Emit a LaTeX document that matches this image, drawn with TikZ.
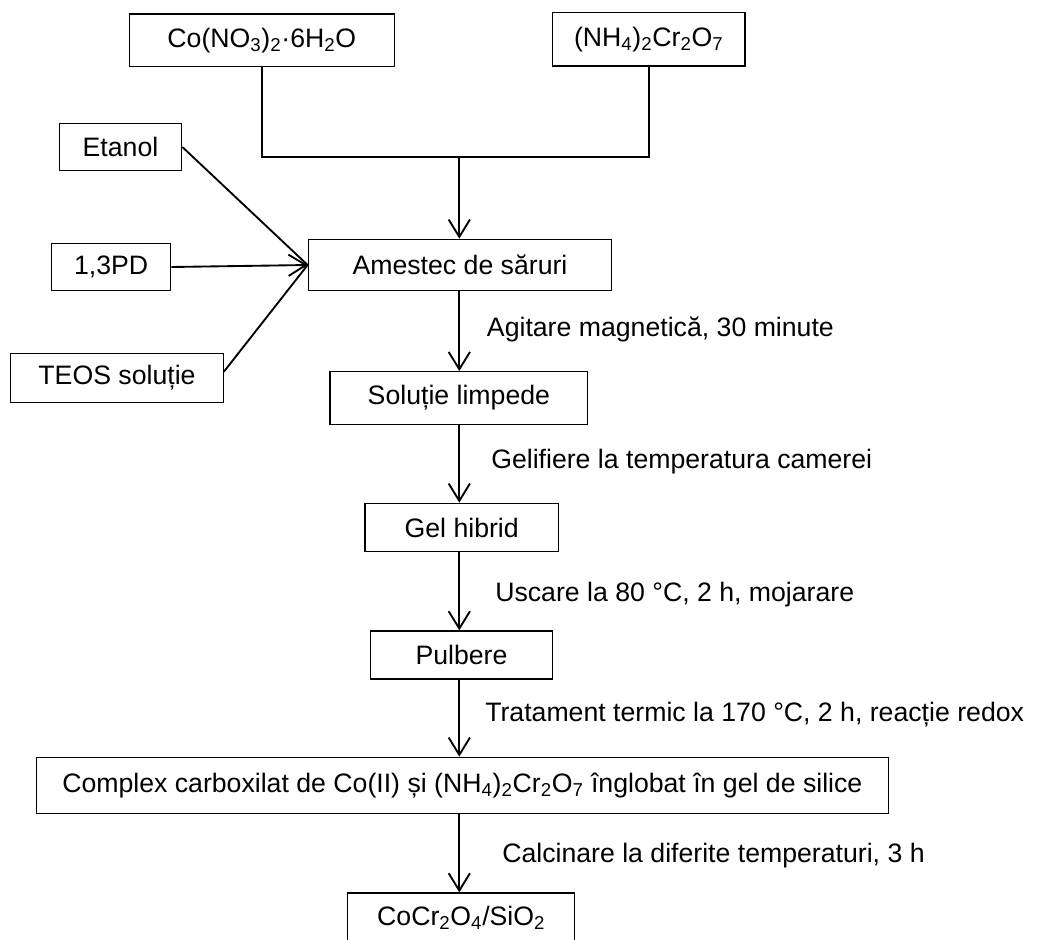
\documentclass[tikz,border=0pt]{standalone}
\usepackage{fontspec}
\setmainfont{Liberation Sans}
\usetikzlibrary{arrows.meta}
\begin{document}
\begin{tikzpicture}[x=0.75pt,y=-0.75pt,
  box/.style={draw, line width=1pt, rectangle, inner sep=0pt, align=center,
              font=\fontsize{20}{24}\selectfont},
  lbl/.style={anchor=base west, inner sep=0pt, font=\fontsize{20}{24}\selectfont},
  link/.style={line width=1.4pt},
  arr/.style={line width=1.4pt, -{Straight Barb[length=13pt,width=16pt,line width=1.4pt]}}]
\useasboundingbox (0,0) rectangle (1037,939);

% starting materials
\node[box, minimum width=265pt*0.75, minimum height=52.7pt*0.75] (co) at (261.8,40.3) {Co(NO\textsubscript{3})\textsubscript{2}·6H\textsubscript{2}O};
\node[box, minimum width=192.7pt*0.75, minimum height=53.3pt*0.75] (nh) at (648.7,39.3) {(NH\textsubscript{4})\textsubscript{2}Cr\textsubscript{2}O\textsubscript{7}};
\node[box, minimum width=122.4pt*0.75, minimum height=47.4pt*0.75] (et) at (120.5,147) {Etanol};
\node[box, minimum width=119pt*0.75, minimum height=47.4pt*0.75] (pd) at (111.2,267) {1,3PD};
\node[box, minimum width=212.6pt*0.75, minimum height=49.4pt*0.75] (teos) at (117,378) {TEOS soluție};

% process chain
\node[box, minimum width=303.4pt*0.75, minimum height=51.4pt*0.75] (am) at (460,265) {Amestec de săruri};
\node[box, minimum width=257.7pt*0.75, minimum height=52.6pt*0.75] (sol) at (458.9,398) {Soluție limpede};
\node[box, minimum width=193.3pt*0.75, minimum height=48.4pt*0.75] (gel) at (461.7,527.5) {Gel hibrid};
\node[box, minimum width=181.6pt*0.75, minimum height=48pt*0.75] (pul) at (461.5,655) {Pulbere};
\node[box, minimum width=852pt*0.75, minimum height=56pt*0.75] (cx) at (462.3,785.3) {Complex carboxilat de Co(II) și (NH\textsubscript{4})\textsubscript{2}Cr\textsubscript{2}O\textsubscript{7} înglobat în gel de silice};
\node[box, minimum width=227pt*0.75, minimum height=50pt*0.75] (fin) at (461.2,918) {CoCr\textsubscript{2}O\textsubscript{4}/SiO\textsubscript{2}};

% joining the two salts
\coordinate (jn) at (459.3,157);
\draw[link] (co.south) |- (jn) -| (nh.south);
\draw[arr] (jn) -- (jn |- am.north);

% side inputs
\coordinate (tip) at (am.west);
\draw[link] (et.east) -- (tip);
\draw[arr] (pd.east) -- (tip);
\draw[link] ([yshift=4.8pt]teos.east) -- (tip);

% chain arrows
\draw[arr] (jn |- am.south) -- (jn |- sol.north);
\draw[arr] (jn |- sol.south) -- (jn |- gel.north);
\draw[arr] (jn |- gel.south) -- (jn |- pul.north);
\draw[arr] (jn |- pul.south) -- (jn |- cx.north);
\draw[arr] (jn |- cx.south) -- (jn |- fin.north);

% step conditions
\node[lbl] (l1) at (486.7,336.7) {Agitare magnetică, 30 minute};
\node[lbl] (l2) at (491,468) {Gelifiere la temperatura camerei};
\node[lbl] (l3) at (495,601.7) {Uscare la 80 °C, 2 h, mojarare};
\node[lbl] (l4) at (485,721.7) {Tratament termic la 170 °C, 2 h, reacție redox};
\node[lbl] (l5) at (502,862) {Calcinare la diferite temperaturi, 3 h};
\end{tikzpicture}
\end{document}
